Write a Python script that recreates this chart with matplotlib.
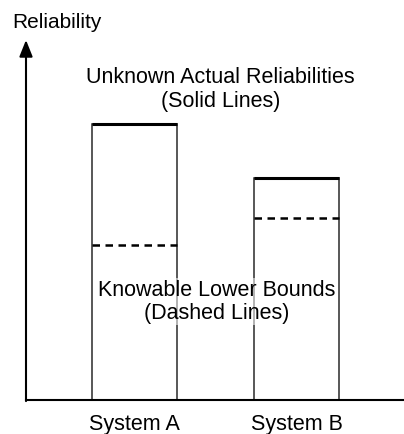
import matplotlib.pyplot as plt

plt.rcParams['font.family'] = ['Liberation Sans', 'DejaVu Sans']

systems = ['System A', 'System B']
actual = [0.767, 0.617]
lower = [0.431, 0.506]

W, H = 404, 434
fig = plt.figure(figsize=(W / 100, H / 100), dpi=100)
ax = fig.add_axes([26 / W, 34 / H, (W - 26) / W, 360 / H])
ax.set_xlim(-0.67, 1.664)
ax.set_ylim(0, 1)

pos = range(len(systems))
width = 0.525
ax.bar(pos, actual, width=width, fill=False, edgecolor='#2a2a2a', linewidth=1.1)
for i in pos:
    ax.hlines(actual[i], i - width / 2, i + width / 2, color='black', linewidth=2.2)
    ax.hlines(lower[i], i - width / 2, i + width / 2, color='black', linewidth=1.8,
              linestyles=(0, (3, 2.2)))

for s in ['top', 'right', 'left']:
    ax.spines[s].set_visible(False)
ax.spines['bottom'].set_linewidth(1.5)
ax.set_yticks([])
ax.set_xticks(list(pos))
ax.set_xticklabels(systems, fontsize=15.5)
ax.tick_params(axis='x', length=0, pad=10)

ax.annotate('', xy=(0, 1.0), xytext=(0, -0.003), xycoords='axes fraction',
            arrowprops=dict(arrowstyle='-|>,head_length=1.0,head_width=0.4',
                            color='black', linewidth=1.5, shrinkA=0, shrinkB=0),
            annotation_clip=False)

fig.text(57 / W, 1 - 22 / H, 'Reliability', fontsize=15, ha='center', va='center')
ax.text(0.53, 0.862, 'Unknown Actual Reliabilities\n(Solid Lines)', fontsize=15.5,
        ha='center', va='center', linespacing=1.15)
ax.text(0.505, 0.273, 'Knowable Lower Bounds\n(Dashed Lines)', fontsize=15.5,
        ha='center', va='center', linespacing=1.15,
        bbox=dict(facecolor='white', alpha=0.55, edgecolor='none', pad=1))

fig.savefig('out.png', dpi=100)
